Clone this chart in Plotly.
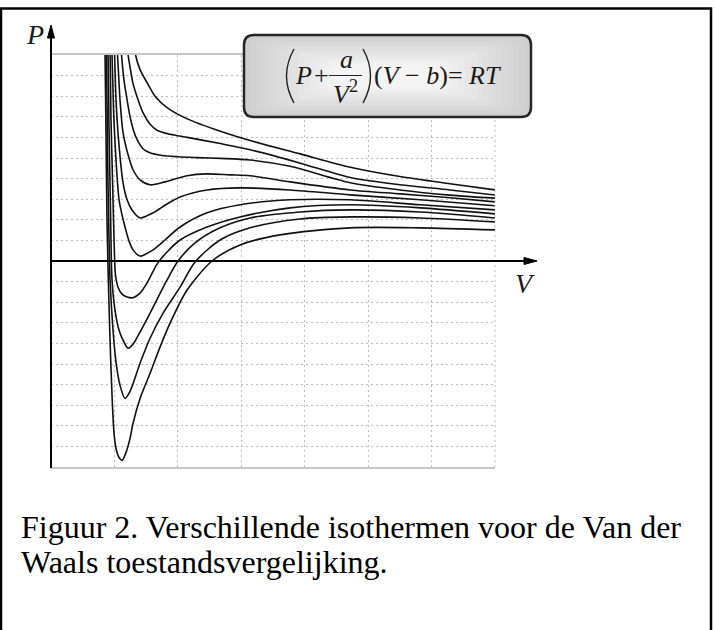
import plotly.graph_objects as go

# Van der Waals isotherms, highest temperature first: sampled (V, P) values
V_T1 = [1.30, 1.333, 1.404, 1.514, 1.64, 1.83, 2.15, 2.67, 3.14, 3.93, 4.72, 5.50, 6.29, 7.00]
P_T1 = [10.8, 10.0, 9.29, 8.66, 8.0, 7.45, 6.9, 6.3, 5.85, 5.2, 4.55, 4.1, 3.75, 3.45]

V_T2 = [1.18, 1.215, 1.25, 1.29, 1.37, 1.45, 1.56, 1.67, 1.88, 2.15, 2.67, 3.14, 3.93, 4.72, 5.50, 6.29, 7.00]
P_T2 = [10.9, 10.0, 9.35, 8.66, 7.85, 7.2, 6.65, 6.35, 6.15, 6.0, 5.7, 5.4, 4.75, 4.05, 3.7, 3.45, 3.2]

V_T3 = [1.08, 1.112, 1.15, 1.199, 1.25, 1.30, 1.356, 1.45, 1.56, 1.75, 2.0, 2.3, 2.67, 3.14, 3.77, 4.72, 5.50, 6.29, 7.00]
P_T3 = [11.2, 10.0, 8.8, 7.83, 6.95, 6.35, 5.9, 5.45, 5.25, 5.12, 5.06, 5.02, 4.98, 4.9, 4.6, 3.8, 3.45, 3.2, 3.05]

V_T4 = [1.02, 1.049, 1.088, 1.136, 1.215, 1.293, 1.404, 1.562, 1.798, 2.145, 2.461, 2.823, 3.139, 3.770, 4.716, 5.505, 6.293, 7.0]
P_T4 = [11.2, 10.0, 7.83, 6.23, 5.16, 4.43, 3.94, 3.70, 3.84, 4.14, 4.23, 4.18, 4.14, 3.84, 3.45, 3.26, 3.07, 2.87]

V_T5 = [0.98, 1.002, 1.025, 1.065, 1.136, 1.199, 1.278, 1.404, 1.609, 1.830, 2.035, 2.461, 2.981, 3.770, 4.716, 5.820, 7.0]
P_T5 = [11.2, 10.0, 7.83, 5.89, 3.80, 2.97, 2.48, 2.09, 2.34, 2.77, 3.11, 3.45, 3.55, 3.45, 3.21, 2.97, 2.68]

V_T6 = [0.94, 0.962, 0.986, 1.025, 1.073, 1.120, 1.167, 1.230, 1.293, 1.404, 1.609, 1.798, 2.035, 2.461, 2.981, 3.770, 4.716, 5.820, 7.0]
P_T6 = [11.2, 10.0, 7.35, 4.91, 2.97, 2.24, 1.65, 0.97, 0.54, 0.24, 0.54, 1.02, 1.65, 2.34, 2.73, 2.97, 2.97, 2.73, 2.48]

V_T7 = [0.91, 0.931, 0.946, 0.970, 0.994, 1.017, 1.057, 1.120, 1.199, 1.293, 1.404, 1.514, 1.672, 1.830, 2.035, 2.461, 2.981, 3.770, 4.716, 5.820, 7.0]
P_T7 = [11.2, 10.0, 6.86, 3.94, 1.02, -0.68, -1.27, -1.61, -1.75, -1.78, -1.56, -1.07, -0.15, 0.44, 1.02, 1.65, 2.14, 2.58, 2.73, 2.58, 2.29]

V_T8 = [0.88, 0.899, 0.915, 0.938, 0.962, 1.009, 1.073, 1.136, 1.215, 1.293, 1.404, 1.562, 1.830, 2.003, 2.271, 2.666, 3.139, 3.927, 4.716, 5.820, 7.0]
P_T8 = [11.2, 10.0, 6.37, 2.48, -0.92, -2.38, -3.36, -3.84, -4.23, -4.04, -3.45, -2.53, -0.92, 0.0, 0.88, 1.61, 2.09, 2.38, 2.48, 2.38, 2.09]

V_T9 = [0.86, 0.875, 0.891, 0.912, 0.931, 0.978, 1.025, 1.088, 1.167, 1.246, 1.404, 1.562, 1.767, 2.035, 2.271, 2.666, 3.139, 3.927, 4.716, 5.820, 7.0]
P_T9 = [11.2, 10.0, 5.40, 1.51, -0.92, -3.36, -4.91, -6.03, -6.67, -6.33, -4.96, -3.75, -2.53, -1.27, -0.05, 1.02, 1.61, 2.04, 2.14, 2.09, 1.90]

V_T10 = [0.84, 0.852, 0.868, 0.883, 0.904, 0.931, 0.962, 0.994, 1.025, 1.073, 1.120, 1.183, 1.246, 1.293, 1.404, 1.562, 1.719, 1.877, 2.145, 2.539, 2.981, 3.612, 4.716, 5.820, 7.0]
P_T10 = [11.2, 10.0, 5.89, 2.0, -0.92, -3.84, -6.52, -8.37, -9.10, -9.54, -9.68, -9.29, -8.61, -7.88, -6.67, -5.45, -4.18, -3.02, -1.41, 0.0, 0.78, 1.27, 1.61, 1.61, 1.51]

V_RANGE = [0, 7]
P_RANGE = [-10, 10]

CAPTION_1 = "Figuur 2. Verschillende isothermen voor de Van der"
CAPTION_2 = "Waals toestandsvergelijking."

ISOTHERMS = [
    (V_T1, P_T1), (V_T2, P_T2), (V_T3, P_T3), (V_T4, P_T4), (V_T5, P_T5),
    (V_T6, P_T6), (V_T7, P_T7), (V_T8, P_T8), (V_T9, P_T9), (V_T10, P_T10),
]

# page geometry in pixels
W, H = 716, 630
PL, PR, PT, PB = 51, 495, 55, 467
SERIF = "Liberation Serif, Times New Roman, serif"
GRID = "#bdbdbd"


def fx(px):
    return px / W


def fy(py):
    return 1 - py / H


def pt(x, y):
    return f"{fx(x):.5f},{fy(y):.5f}"


def rounded_rect(x0, y0, x1, y1, r):
    return (
        f"M {pt(x0 + r, y0)} L {pt(x1 - r, y0)} Q {pt(x1, y0)} {pt(x1, y0 + r)} "
        f"L {pt(x1, y1 - r)} Q {pt(x1, y1)} {pt(x1 - r, y1)} "
        f"L {pt(x0 + r, y1)} Q {pt(x0, y1)} {pt(x0, y1 - r)} "
        f"L {pt(x0, y0 + r)} Q {pt(x0, y0)} {pt(x0 + r, y0)} Z"
    )


fig = go.Figure()
for v, p in ISOTHERMS:
    fig.add_trace(go.Scatter(
        x=v, y=p, mode="lines",
        line=dict(color="#111111", width=1.6, shape="spline", smoothing=0.8),
        hoverinfo="skip", showlegend=False,
    ))

shapes = []
# dotted right edge of the grid
shapes.append(dict(type="line", xref="paper", yref="paper",
                   x0=fx(PR), x1=fx(PR), y0=fy(PB), y1=fy(PT),
                   line=dict(color=GRID, width=1, dash="2px,3px")))
# vertical P axis with arrow
shapes.append(dict(type="line", xref="paper", yref="paper",
                   x0=fx(PL), x1=fx(PL), y0=fy(PB + 1), y1=fy(34),
                   line=dict(color="black", width=2)))
shapes.append(dict(type="path", xref="paper", yref="paper",
                   path=f"M {pt(PL, 25)} L {pt(PL - 3.5, 38)} L {pt(PL + 3.5, 38)} Z",
                   fillcolor="black", line=dict(color="black", width=1)))
# horizontal V axis extension with arrow
shapes.append(dict(type="line", xref="paper", yref="paper",
                   x0=fx(PR - 2), x1=fx(528), y0=fy(261), y1=fy(261),
                   line=dict(color="black", width=2)))
shapes.append(dict(type="path", xref="paper", yref="paper",
                   path=f"M {pt(537, 261)} L {pt(524, 257.5)} L {pt(524, 264.5)} Z",
                   fillcolor="black", line=dict(color="black", width=1)))

# equation box with a soft radial shading (many thin layers)
bx0, by0, bx1, by1 = 244, 35, 531, 117
n_layers = 16
for i in range(n_layers):
    level = int(0xcf + (0xf4 - 0xcf) * i / (n_layers - 1))
    c = f"#{level:02x}{level:02x}{level:02x}"
    dx, dy = i * 6.0, i * 2.0
    shapes.append(dict(type="path", xref="paper", yref="paper", layer="above",
                       path=rounded_rect(bx0 + dx, by0 + dy, bx1 - dx, by1 - dy, max(10 - i * 0.4, 4)),
                       fillcolor=c, line=dict(width=0)))
shapes.append(dict(type="path", xref="paper", yref="paper", layer="above",
                   path=rounded_rect(bx0, by0, bx1, by1, 10),
                   fillcolor="rgba(0,0,0,0)", line=dict(color="#262626", width=2.5)))
# large delimiters and fraction bar
shapes.append(dict(type="path", xref="paper", yref="paper", layer="above",
                   path=f"M {pt(294, 49)} Q {pt(279, 76)} {pt(294, 103)}",
                   line=dict(color="#222222", width=1.4)))
shapes.append(dict(type="path", xref="paper", yref="paper", layer="above",
                   path=f"M {pt(363, 49)} Q {pt(378, 76)} {pt(363, 103)}",
                   line=dict(color="#222222", width=1.4)))
shapes.append(dict(type="line", xref="paper", yref="paper", layer="above",
                   x0=fx(329), x1=fx(362), y0=fy(75.5), y1=fy(75.5),
                   line=dict(color="#222222", width=1.2)))

# page frame
shapes.append(dict(type="rect", xref="paper", yref="paper",
                   x0=fx(1), x1=fx(711), y0=fy(650), y1=fy(8.5),
                   line=dict(color="black", width=2.5), fillcolor="rgba(0,0,0,0)"))

annotations = []


def label(text, x, y, size, xanchor="center", color="#1a1a1a"):
    annotations.append(dict(text=text, x=fx(x), y=fy(y), xref="paper", yref="paper",
                            xanchor=xanchor, yanchor="middle", showarrow=False,
                            font=dict(family=SERIF, size=size, color=color)))


label("<i>P</i>", 35, 34, 28)
label("<i>V</i>", 525, 284, 28)

# (P + a/V^2)(V - b) = RT
label("<i>P</i>", 303, 75, 26)
label("+", 321, 75, 26)
label("<i>a</i>", 346, 59, 26)
label("<i>V</i><sup>2</sup>", 345, 92, 26)
label("(<i>V</i> \u2212 <i>b</i>)= <i>RT</i>", 372, 75, 26, xanchor="left")

label(CAPTION_1, 19, 527, 32, xanchor="left", color="black")
label(CAPTION_2, 19, 562, 32, xanchor="left", color="black")

axis_common = dict(showticklabels=False, ticks="", showgrid=True, gridcolor=GRID,
                   gridwidth=1, griddash="2px,3px", fixedrange=True, dtick=1)

fig.update_layout(
    width=W, height=H, autosize=False,
    margin=dict(l=0, r=0, t=0, b=0, pad=0),
    paper_bgcolor="white", plot_bgcolor="white",
    xaxis=dict(domain=[fx(PL), fx(PR)], range=V_RANGE, zeroline=False,
               showline=True, linecolor="#c6c6c6", linewidth=1.5, mirror=True,
               **axis_common),
    yaxis=dict(domain=[fy(PB), fy(PT)], range=P_RANGE, zeroline=True,
               zerolinecolor="black", zerolinewidth=2, showline=False,
               **axis_common),
    shapes=shapes, annotations=annotations,
)

fig.write_html("out.html")
